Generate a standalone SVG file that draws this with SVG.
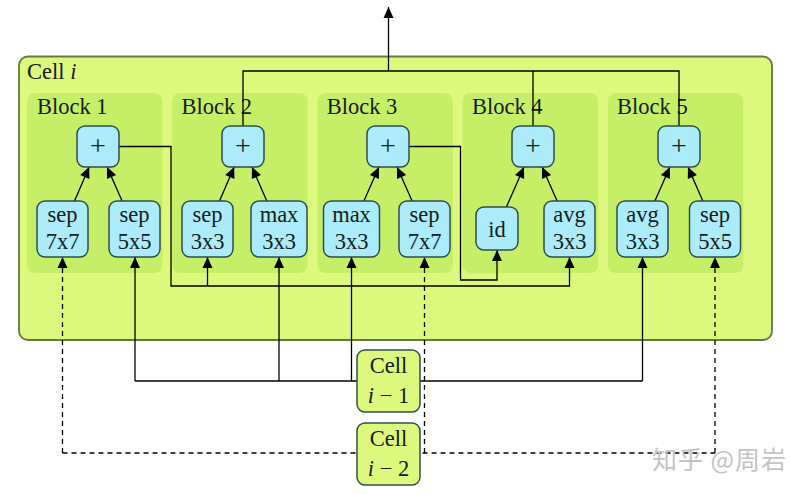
<svg xmlns="http://www.w3.org/2000/svg" width="790" height="495" viewBox="0 0 790 495">
<defs>
<marker id="ah" viewBox="-12 -6 13 12" refX="0" refY="0" markerWidth="13" markerHeight="12" orient="auto" markerUnits="userSpaceOnUse">
<path d="M0,0 L-11,-5 L-11,5 Z" fill="#000"/>
</marker>
<style>
.t{font-family:"Liberation Serif","DejaVu Serif",serif;font-size:22.5px;fill:#142018;}
.c{text-anchor:middle;}
.it{font-style:italic;}
.plus{font-family:"Liberation Serif","DejaVu Serif",serif;font-size:28px;fill:#142018;text-anchor:middle;}
.op{fill:#abebfa;stroke:#2f4f4f;stroke-width:1.5;}
.blk{fill:#c6ef68;}
.cellbox{fill:#dcf97e;stroke:#2f4f4f;stroke-width:1.5;}
.ln{fill:none;stroke:#000;stroke-width:1.3;}
.dash{stroke-dasharray:5 4;}
.arr{marker-end:url(#ah);}
</style>
</defs>
<rect width="790" height="495" fill="#fff"/>
<g id="cell-i">
<rect x="19" y="56.5" width="753" height="283.5" rx="9" fill="#dcf97e" stroke="#66783f" stroke-width="1.8"/>
<text class="t" x="27" y="79">Cell <tspan class="it">i</tspan></text>
</g>
<g id="block1"><rect class="blk" x="27" y="93" width="135.5" height="180" rx="8"/><text class="t" x="37" y="114">Block 1</text></g>
<g id="block2"><rect class="blk" x="172.2" y="93" width="135.5" height="180" rx="8"/><text class="t" x="181.5" y="114">Block 2</text></g>
<g id="block3"><rect class="blk" x="317.4" y="93" width="135.5" height="180" rx="8"/><text class="t" x="326.7" y="114">Block 3</text></g>
<g id="block4"><rect class="blk" x="462.6" y="93" width="135.5" height="180" rx="8"/><text class="t" x="471.9" y="114">Block 4</text></g>
<g id="block5"><rect class="blk" x="607.8" y="93" width="135.5" height="180" rx="8"/><text class="t" x="617.1" y="114">Block 5</text></g>
<g id="connectors">
<path class="ln arr" d="M388.5,71 V7"/>
<path class="ln" d="M243,126 V71 H679 V126 M533,126 V71"/>
<path class="ln arr" d="M74.5,201 L89.2,167"/>
<path class="ln arr" d="M122.1,201 L107.1,167"/>
<path class="ln arr" d="M219.5,201 L234.2,167"/>
<path class="ln arr" d="M266.8,201 L252,167"/>
<path class="ln arr" d="M363.9,201 L378.9,167"/>
<path class="ln arr" d="M412.1,201 L397.1,167"/>
<path class="ln arr" d="M506.4,207 L524,167"/>
<path class="ln arr" d="M557.1,201 L542.1,167"/>
<path class="ln arr" d="M654.9,201 L669.9,167"/>
<path class="ln arr" d="M702.8,201 L688,167"/>
<path class="ln arr" d="M119,146.5 H171 V286 H569.5 V257"/>
<path class="ln arr" d="M207.5,286 V257"/>
<path class="ln arr" d="M409,146.5 H460.5 V280 H497 V250"/>
<path class="ln" d="M135,381 H642.5"/>
<path class="ln arr" d="M135,381 V257"/>
<path class="ln arr" d="M279,381 V257"/>
<path class="ln arr" d="M351.5,381 V257"/>
<path class="ln arr" d="M642.5,381 V257"/>
<path class="ln dash" d="M62.5,453 H715"/>
<path class="ln dash arr" d="M62.5,453 V257"/>
<path class="ln dash arr" d="M424.5,453 V257"/>
<path class="ln dash arr" d="M715,453 V257"/>
</g>
<g id="b1-plus"><rect class="op" x="77" y="126" width="42" height="41" rx="8"/><text class="plus" x="98" y="154.5">+</text></g>
<g id="b2-plus"><rect class="op" x="222" y="126" width="42" height="41" rx="8"/><text class="plus" x="243" y="154.5">+</text></g>
<g id="b3-plus"><rect class="op" x="367" y="126" width="42" height="41" rx="8"/><text class="plus" x="388" y="154.5">+</text></g>
<g id="b4-plus"><rect class="op" x="512" y="126" width="42" height="41" rx="8"/><text class="plus" x="533" y="154.5">+</text></g>
<g id="b5-plus"><rect class="op" x="658" y="126" width="42" height="41" rx="8"/><text class="plus" x="679" y="154.5">+</text></g>
<g id="b1-sep7x7"><rect class="op" x="37" y="201" width="51" height="56" rx="8"/><text class="t c" x="62.5" y="222">sep</text><text class="t c" x="62.5" y="248.5">7x7</text></g>
<g id="b1-sep5x5"><rect class="op" x="109" y="201" width="51" height="56" rx="8"/><text class="t c" x="134.5" y="222">sep</text><text class="t c" x="134.5" y="248.5">5x5</text></g>
<g id="b2-sep3x3"><rect class="op" x="182" y="201" width="51" height="56" rx="8"/><text class="t c" x="207.5" y="222">sep</text><text class="t c" x="207.5" y="248.5">3x3</text></g>
<g id="b2-max3x3"><rect class="op" x="251" y="201" width="56" height="56" rx="8"/><text class="t c" x="279" y="222">max</text><text class="t c" x="279" y="248.5">3x3</text></g>
<g id="b3-max3x3"><rect class="op" x="323.5" y="201" width="56" height="56" rx="8"/><text class="t c" x="351.5" y="222">max</text><text class="t c" x="351.5" y="248.5">3x3</text></g>
<g id="b3-sep7x7"><rect class="op" x="399" y="201" width="51" height="56" rx="8"/><text class="t c" x="424.5" y="222">sep</text><text class="t c" x="424.5" y="248.5">7x7</text></g>
<g id="b4-id"><rect class="op" x="476" y="207" width="42" height="43" rx="8"/><text class="t c" x="497" y="236.5">id</text></g>
<g id="b4-avg3x3"><rect class="op" x="544" y="201" width="51" height="56" rx="8"/><text class="t c" x="569.5" y="222">avg</text><text class="t c" x="569.5" y="248.5">3x3</text></g>
<g id="b5-avg3x3"><rect class="op" x="617" y="201" width="51" height="56" rx="8"/><text class="t c" x="642.5" y="222">avg</text><text class="t c" x="642.5" y="248.5">3x3</text></g>
<g id="b5-sep5x5"><rect class="op" x="689.5" y="201" width="51" height="56" rx="8"/><text class="t c" x="715" y="222">sep</text><text class="t c" x="715" y="248.5">5x5</text></g>
<g id="cell-i-1"><rect class="cellbox" x="357" y="350" width="63" height="62" rx="8"/><text class="t c" x="388.5" y="373">Cell</text><text class="t c" x="388.5" y="403"><tspan class="it">i</tspan> − 1</text></g>
<g id="cell-i-2"><rect class="cellbox" x="357" y="423" width="63" height="62" rx="8"/><text class="t c" x="388.5" y="446">Cell</text><text class="t c" x="388.5" y="476"><tspan class="it">i</tspan> − 2</text></g>
<text x="652" y="469" font-family="'Noto Sans CJK SC',sans-serif" font-size="25" fill="#c4c4c4" textLength="134" lengthAdjust="spacing">知乎 @周岩</text>
</svg>
